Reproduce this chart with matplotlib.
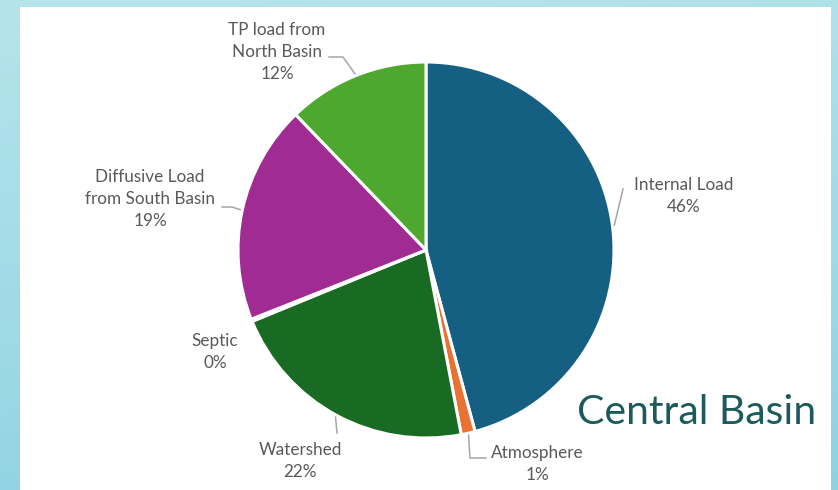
import numpy as np
import matplotlib
matplotlib.use("Agg")
import matplotlib.pyplot as plt
from matplotlib.colors import LinearSegmentedColormap
from matplotlib.patches import Rectangle

# slice data, clockwise from 12 o'clock
sources = ["Internal Load", "Atmosphere", "Watershed", "Septic",
           "Diffusive Load\nfrom South Basin", "TP load from\nNorth Basin"]
shares = [45.8, 1.2, 21.8, 0.2, 18.8, 12.2]
colors = ["#156082", "#E97132", "#196B24", "#0F9ED5", "#A02B93", "#4EA72E"]
title = "Central Basin"

W, H = 838, 490
CX, CY, R = 426, 240, 188          # pie centre / radius in pixels (y up)

# label block centres (pixels, y up) and the leader-line path from text side
label_pos = [(684, 294), (537, 26), (300, 29), (215, 138), (150, 291), (277, 438)]
leader_path = [
    [(623, 301)],
    [(470, 32), (486, 32)],
    [(337, 57)],
    None,
    [(232, 283), (222, 283)],
    [(343, 433), (329, 433)],
]

fig = plt.figure(figsize=(W / 100, H / 100), dpi=100)

# cyan gradient backdrop
bg = fig.add_axes([0, 0, 1, 1])
grad = LinearSegmentedColormap.from_list("bg", ["#b6e4eb", "#8dd2e3"])
yy, xx = np.mgrid[0:1:200j, 0:1:200j]
bg.imshow(yy * 0.85 + 0.15 * xx, cmap=grad, aspect="auto",
          extent=(0, W, H, 0), origin="upper")
bg.add_patch(Rectangle((20, 7), 811, 490, facecolor="white", edgecolor="none"))
bg.set_xlim(0, W)
bg.set_ylim(H, 0)
bg.axis("off")

ax = fig.add_axes([0, 0, 1, 1])
ax.patch.set_alpha(0)
wedges, _ = ax.pie(shares, colors=colors, startangle=90, counterclock=False,
                   center=(CX, CY), radius=R,
                   wedgeprops=dict(edgecolor="white", linewidth=2.2))
ax.set_xlim(0, W)
ax.set_ylim(0, H)
ax.set_aspect("equal")
ax.axis("off")

total = sum(shares)
font = ["Lato", "DejaVu Sans"]
for w, name, val, pos, path in zip(wedges, sources, shares, label_pos, leader_path):
    ax.text(pos[0], pos[1], "%s\n%d%%" % (name, round(val / total * 100)),
            ha="center", va="center", fontsize=12.3, color="#595959",
            family=font, linespacing=1.45)
    if path is None:
        continue
    mid = np.deg2rad((w.theta1 + w.theta2) / 2)
    start = (CX + (R + 2) * np.cos(mid), CY + (R + 2) * np.sin(mid))
    pts = [start] + path
    ax.plot([p[0] for p in pts], [p[1] for p in pts], color="#a6a6a6", lw=1.1)

ax.text(816, 78, title, ha="right", va="center", fontsize=29.5,
        color="#1d5a5b", family=font)

fig.savefig("out.png", dpi=100)
